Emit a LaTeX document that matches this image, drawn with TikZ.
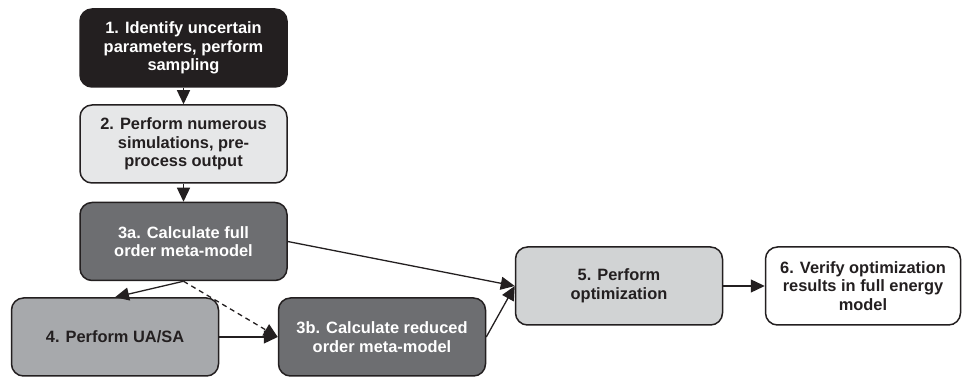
\documentclass[tikz,border=0pt]{standalone}
\usepackage{fontspec}
\setmainfont{Liberation Sans}
\usetikzlibrary{arrows.meta}
\definecolor{cblack}{HTML}{231F20}
\definecolor{clight}{HTML}{E6E7E8}
\definecolor{cdark}{HTML}{6D6E71}
\definecolor{cmid}{HTML}{A7A9AC}
\definecolor{copt}{HTML}{D1D3D4}
\tikzset{
  stepbox/.style={draw=cblack, line width=0.75pt, rounded corners=6pt,
    minimum width=103.5pt, minimum height=39pt, align=center,
    font=\bfseries\fontsize{8.2}{9.3}\selectfont, inner sep=0pt},
  conn/.style={line width=0.65pt, draw=cblack, -{Triangle[length=7pt,width=6.5pt]}},
}
\begin{document}
\begin{tikzpicture}[x=0.5pt,y=-0.5pt]
\useasboundingbox (0,0) rectangle (962,378);
\node[stepbox, fill=cblack, text=white] (s1) at (183.5,48) {1. Identify uncertain\\parameters, perform\\sampling};
\node[stepbox, fill=clight, text=cblack] (s2) at (183.5,144) {2. Perform numerous\\simulations, pre-\\process output};
\node[stepbox, fill=cdark, text=white] (s3a) at (183.5,241.5) {3a. Calculate full\\order meta-model};
\node[stepbox, fill=cmid, text=cblack] (s4) at (115,337) {4. Perform UA/SA};
\node[stepbox, fill=cdark, text=white] (s3b) at (382,337) {3b. Calculate reduced\\order meta-model};
\node[stepbox, fill=copt, text=cblack] (s5) at (619,286) {5. Perform\\optimization};
\node[stepbox, fill=white, text=cblack, minimum width=97.5pt] (s6) at (863,286) {6. Verify optimization\\results in full energy\\model};
\draw[conn] (s1) -- (s2);
\draw[conn] (s2) -- (s3a);
\draw[conn] (s3a.east) -- (s5.west);
\draw[conn] (s3a.south) -- (s4.north);
\draw[conn, dashed, dash pattern=on 2.5pt off 2pt] (s3a.south) -- (s3b.west);
\draw[conn] (s4.east) -- (s3b.west);
\draw[conn] (s3b.east) -- (s5.west);
\draw[conn] (s5.east) -- (s6.west);
\end{tikzpicture}
\end{document}
